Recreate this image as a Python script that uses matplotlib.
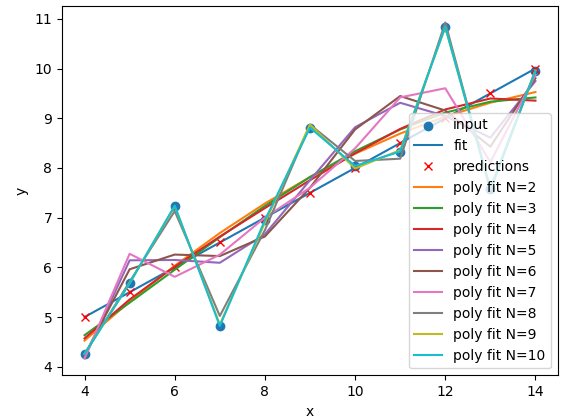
import matplotlib
matplotlib.use("Agg")
import matplotlib.pyplot as plt

# data
x = [4, 5, 6, 7, 8, 9, 10, 11, 12, 13, 14]
y_input = [4.26, 5.68, 7.24, 4.82, 6.95, 8.81, 8.04, 8.33, 10.84, 7.58, 9.96]
y_fit = [5.00, 5.50, 6.00, 6.50, 7.00, 7.50, 8.00, 8.50, 9.00, 9.50, 10.00]
y_pred = [5.00, 5.50, 6.00, 6.50, 7.00, 7.50, 8.00, 8.50, 9.00, 9.50, 10.00]

degrees = [2, 3, 4, 5, 6, 7, 8, 9, 10]
poly_n2 = [4.526, 5.311, 6.032, 6.690, 7.285, 7.817, 8.286, 8.691, 9.033, 9.312, 9.527]
poly_n3 = [4.635, 5.289, 5.952, 6.607, 7.235, 7.817, 8.336, 8.774, 9.113, 9.333, 9.418]
poly_n4 = [4.571, 5.353, 6.016, 6.618, 7.192, 7.753, 8.294, 8.785, 9.177, 9.397, 9.354]
poly_n5 = [4.177, 6.141, 6.148, 6.092, 6.666, 7.753, 8.819, 9.311, 9.045, 8.609, 9.748]
poly_n6 = [4.233, 5.961, 6.257, 6.227, 6.621, 7.602, 8.774, 9.446, 9.155, 8.428, 9.805]
poly_n7 = [4.166, 6.273, 5.809, 6.255, 7.001, 7.602, 8.394, 9.419, 9.603, 8.116, 9.873]
poly_n8 = [4.256, 5.711, 7.132, 5.022, 6.748, 8.871, 8.140, 8.186, 10.926, 7.554, 9.963]
poly_n9 = [4.260, 5.682, 7.229, 4.849, 6.899, 8.871, 7.989, 8.359, 10.829, 7.582, 9.960]
poly_n10 = [4.260, 5.680, 7.240, 4.820, 6.950, 8.810, 8.040, 8.330, 10.840, 7.580, 9.960]
poly_fits = [poly_n2, poly_n3, poly_n4, poly_n5, poly_n6, poly_n7, poly_n8, poly_n9, poly_n10]

fig = plt.figure(figsize=(5.68, 4.17), dpi=100)
ax = fig.add_axes([62 / 568, 41.7 / 417, 496 / 568, 369.6 / 417])

ax.scatter(x, y_input, label="input")
ax.plot(x, y_fit, label="fit")
ax.plot(x, y_pred, "rx", label="predictions")
for n, vals in zip(degrees, poly_fits):
    ax.plot(x, vals, label="poly fit N=%d" % n)

ax.set_xlabel("x")
ax.set_ylabel("y")
ax.legend(loc="lower right")

fig.savefig("out.png")
